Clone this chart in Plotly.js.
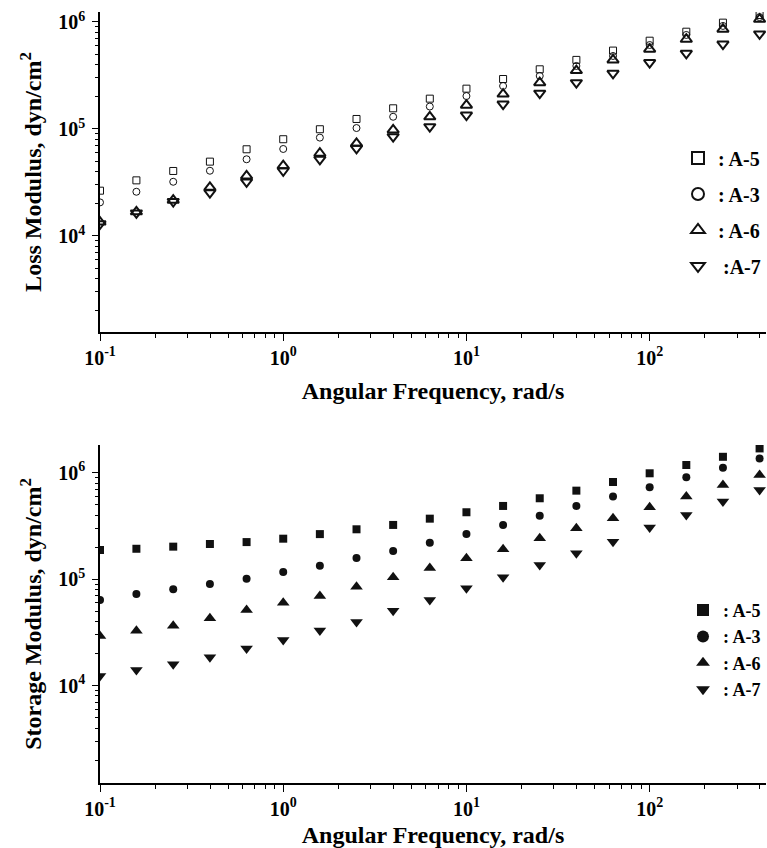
<!DOCTYPE html>
<html>
<head>
<meta charset="utf-8">
<script src="https://cdn.plot.ly/plotly-3.0.1.min.js"></script>
<style>html,body{margin:0;padding:0;background:#fff;}#chart{width:767px;height:848px;}</style>
</head>
<body>
<div id="chart"></div>
<script>
// Angular frequency, rad/s
var freq = [0.1, 0.158, 0.251, 0.398, 0.631, 1, 1.585, 2.512, 3.981, 6.31, 10, 15.85, 25.12, 39.81, 63.1, 100, 158.5, 251.2, 398.1];

// Loss modulus G'' (dyn/cm^2)
var lossA5 = [26500, 33100, 40500, 49500, 64600, 80200, 99400, 124000, 156000, 192000, 238000, 293000, 361000, 442000, 540000, 668000, 811000, 985000, 1160000];
var lossA3 = [20600, 25900, 32100, 40700, 52100, 65000, 83000, 102000, 130000, 162000, 203000, 252000, 313000, 388000, 481000, 609000, 756000, 918000, 1110000];
var lossA6 = [13500, 16800, 21600, 28500, 36400, 45400, 59300, 73500, 98000, 130000, 167000, 212000, 271000, 351000, 442000, 556000, 689000, 855000, 1060000];
var lossA7 = [13000, 16400, 21000, 25400, 32000, 40700, 52100, 66000, 84700, 105000, 135000, 171000, 216000, 271000, 331000, 417000, 509000, 622000, 773000];

// Storage modulus G' (dyn/cm^2)
var storA5 = [188000, 193000, 202000, 214000, 223000, 240000, 265000, 294000, 323000, 370000, 425000, 487000, 575000, 678000, 818000, 987000, 1180000, 1410000, 1690000];
var storA3 = [63800, 72600, 80400, 90200, 101000, 117000, 134000, 158000, 184000, 220000, 265000, 323000, 394000, 487000, 596000, 729000, 905000, 1110000, 1360000];
var storA6 = [29300, 32700, 36600, 43000, 51400, 60100, 69500, 85100, 104000, 127000, 157000, 191000, 242000, 301000, 373000, 473000, 596000, 766000, 951000];
var storA7 = [12300, 14000, 15900, 18500, 22300, 26900, 32900, 39600, 50600, 63800, 82200, 104000, 136000, 175000, 225000, 305000, 401000, 535000, 689000];

var lossNames = [': A-5', ': A-3', ': A-6', ' :A-7'];
var storNames = [': A-5', ': A-3', ': A-6', ': A-7'];

var xTickVals = [0.1, 1, 10, 100];
var xTickText = ['10<sup>-1</sup>', '10<sup>0</sup>', '10<sup>1</sup>', '10<sup>2</sup>'];
var yTickVals = [1e4, 1e5, 1e6];
var yTickText = ['10<sup>4</sup>', '10<sup>5</sup>', '10<sup>6</sup>'];

function minorVals(lo, hi) {
  var v = [];
  for (var e = lo; e <= hi; e++) {
    for (var m = 2; m <= 9; m++) v.push(m * Math.pow(10, e));
  }
  return v;
}

var FONT = 'Liberation Serif, Times New Roman, serif';
var XRANGE = [-1, 2.635];
var Y1RANGE = [3.103, 6.093];
var Y2RANGE = [3.086, 6.26];

function tr(y, name, sym, size, lw, xa, ya, leg, grp) {
  return {
    x: freq, y: y, name: name, type: 'scatter', mode: 'markers',
    xaxis: xa, yaxis: ya, legend: leg, legendgroup: grp,
    marker: {symbol: sym, size: size, color: '#111', line: {color: '#111', width: lw}},
    hoverinfo: 'skip'
  };
}

var data = [
  tr(lossA5, lossNames[0], 'square-open', 7, 1, 'x', 'y', 'legend', 'l5'),
  tr(lossA3, lossNames[1], 'circle-open', 7, 1, 'x', 'y', 'legend', 'l3'),
  tr(lossA6, lossNames[2], 'triangle-up-open', 10, 2, 'x', 'y', 'legend', 'l6'),
  tr(lossA7, lossNames[3], 'triangle-down-open', 10, 2, 'x', 'y', 'legend', 'l7'),
  tr(storA5, storNames[0], 'square', 8, 0, 'x2', 'y2', 'legend2', 's5'),
  tr(storA3, storNames[1], 'circle', 8, 0, 'x2', 'y2', 'legend2', 's3'),
  tr(storA6, storNames[2], 'triangle-up', 11, 0, 'x2', 'y2', 'legend2', 's6'),
  tr(storA7, storNames[3], 'triangle-down', 11, 0, 'x2', 'y2', 'legend2', 's7')
];

function xaxis(anchor) {
  return {
    type: 'log', range: XRANGE, anchor: anchor,
    showline: true, linecolor: '#000', linewidth: 1.5, showgrid: false, zeroline: false,
    ticks: 'outside', ticklen: 7, tickwidth: 1.2, tickcolor: '#000',
    tickmode: 'array', tickvals: xTickVals, ticktext: xTickText,
    minor: {ticks: 'outside', ticklen: 4, tickwidth: 1, tickcolor: '#000', tickmode: 'array', tickvals: minorVals(-1, 2)},
    tickfont: {family: FONT, size: 20, weight: 'bold', color: '#000'},
    title: {text: 'Angular Frequency, rad/s', font: {family: FONT, size: 24, weight: 'bold', color: '#000'}, standoff: 14}
  };
}
function yaxis(range, domain, anchor, title) {
  return {
    type: 'log', range: range, domain: domain, anchor: anchor,
    showline: true, linecolor: '#000', linewidth: 1.5, showgrid: false, zeroline: false,
    ticks: 'outside', ticklen: 6, tickwidth: 1.2, tickcolor: '#000',
    tickmode: 'array', tickvals: yTickVals, ticktext: yTickText,
    ticklabelstandoff: 3,
    minor: {ticks: 'outside', ticklen: 3, tickwidth: 1, tickcolor: '#000', tickmode: 'array', tickvals: minorVals(3, 6)},
    tickfont: {family: FONT, size: 20, weight: 'bold', color: '#000'},
    title: {text: title, font: {family: FONT, size: 24, weight: 'bold', color: '#000'}, standoff: 10}
  };
}

var layout = {
  width: 767, height: 848,
  margin: {l: 100, r: 1, t: 12, b: 65},
  paper_bgcolor: '#fff', plot_bgcolor: '#fff',
  showlegend: true,
  xaxis: xaxis('y'),
  yaxis: yaxis(Y1RANGE, [0.585, 1], 'x', 'Loss Modulus, dyn/cm<sup>2</sup>'),
  xaxis2: xaxis('y2'),
  yaxis2: yaxis(Y2RANGE, [0, 0.4384], 'x2', 'Storage Modulus, dyn/cm<sup>2</sup>'),
  legend: {
    x: 1, xanchor: 'right', y: 0.836, yanchor: 'top',
    bgcolor: 'rgba(0,0,0,0)', borderwidth: 0,
    traceorder: 'grouped', tracegroupgap: 7, itemsizing: 'constant',
    font: {family: FONT, size: 20, weight: 'bold', color: '#000'}
  },
  legend2: {
    x: 1, xanchor: 'right', y: 0.248, yanchor: 'top',
    bgcolor: 'rgba(0,0,0,0)', borderwidth: 0,
    traceorder: 'grouped', tracegroupgap: 0, itemsizing: 'constant',
    font: {family: FONT, size: 18, weight: 'bold', color: '#000'}
  },
  hovermode: false
};

Plotly.newPlot('chart', data, layout, {displayModeBar: false});
</script>
</body>
</html>
